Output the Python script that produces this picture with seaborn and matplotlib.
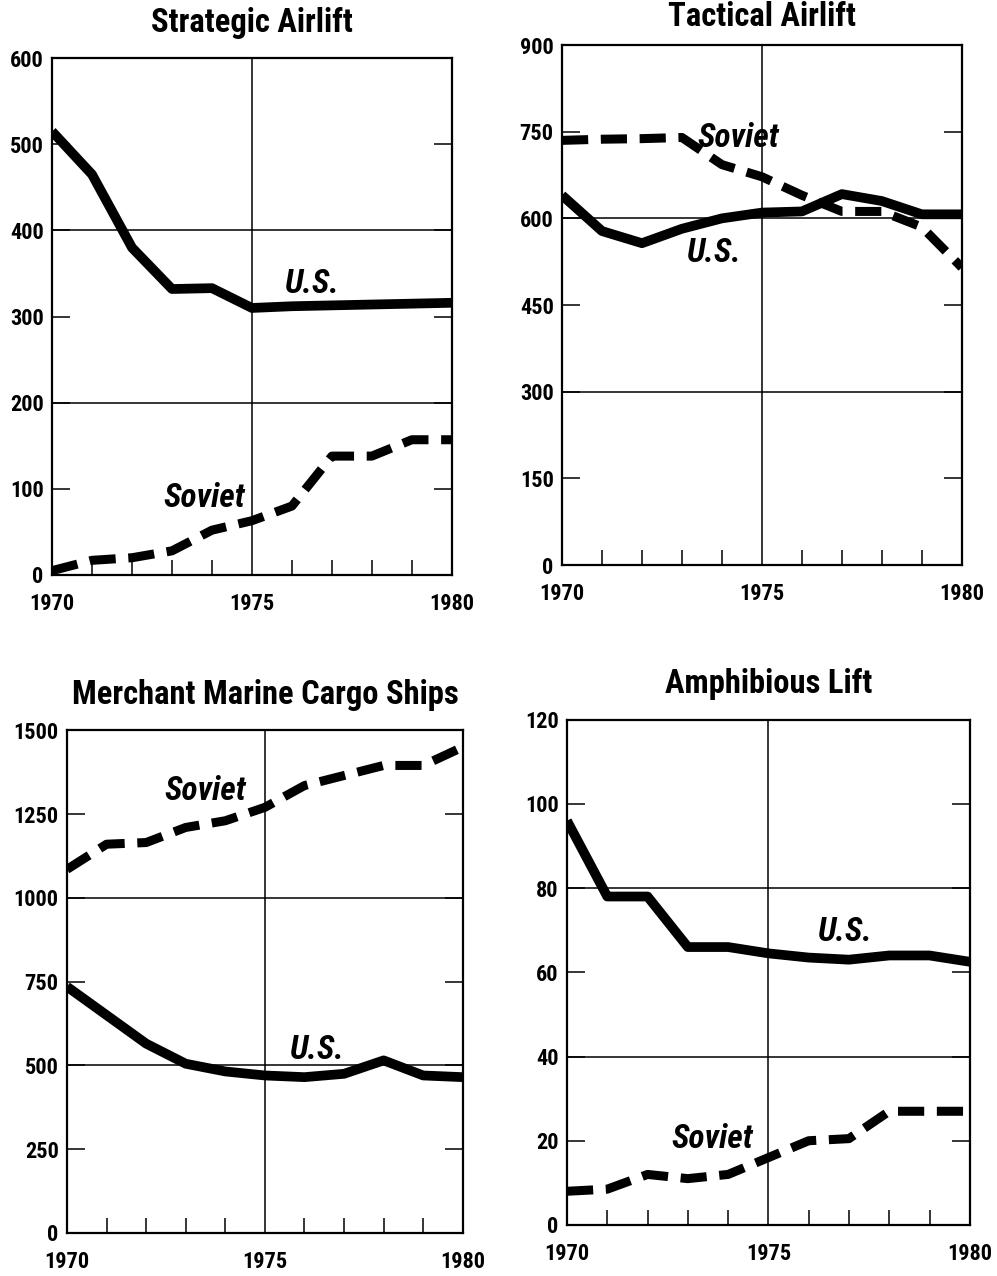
import numpy as np
import pandas as pd
import seaborn as sns
import matplotlib.pyplot as plt
from matplotlib import font_manager

#######################################################################
#  DATA
#######################################################################
years = list(range(1970, 1981))

strategic_us = [515, 465, 380, 332, 333, 310, 312, 313, 314, 315, 316]
strategic_soviet = [5, 17, 20, 28, 52, 63, 80, 138, 138, 157, 157]

tactical_us = [640, 578, 557, 582, 600, 610, 612, 642, 630, 607, 607]
tactical_soviet = [735, 737, 738, 740, 693, 672, 640, 612, 612, 585, 515]

merchant_us = [735, 650, 565, 505, 482, 470, 465, 475, 515, 470, 465]
merchant_soviet = [1085, 1160, 1165, 1210, 1230, 1270, 1335, 1365, 1395, 1395, 1450]

amphib_us = [96, 78, 78, 66, 66, 64.5, 63.5, 63, 64, 64, 62.5]
amphib_soviet = [8, 8.5, 12, 11, 12, 16, 20, 20.5, 27, 27, 27]

titles = ['Strategic Airlift', 'Tactical Airlift',
          'Merchant Marine Cargo Ships', 'Amphibious Lift']
y_max = [600, 900, 1500, 120]
y_step = [100, 150, 250, 20]

# label positions (year, value) for "U.S." and "Soviet"
us_label_pos = [(1976.5, 338), (1973.8, 540), (1976.3, 547), (1976.9, 69.6)]
soviet_label_pos = [(1973.8, 89), (1974.4, 739), (1973.5, 1320), (1973.6, 20.4)]

#######################################################################
#  PLOT
#######################################################################
sns.set_style("white")
installed = {f.name for f in font_manager.fontManager.ttflist}
families = [n for n in ['Liberation Sans Narrow', 'Roboto Condensed',
                        'DejaVu Sans Condensed', 'Liberation Sans'] if n in installed]
plt.rcParams['font.family'] = families + ['DejaVu Sans']
plt.rcParams['font.weight'] = 'bold'
for k in ['text.color', 'axes.labelcolor', 'xtick.color', 'ytick.color',
          'axes.edgecolor']:
    plt.rcParams[k] = 'black'

fig = plt.figure(figsize=(9.97, 12.76), dpi=100)
axes_rects = [
    [0.0522, 0.5494, 0.401, 0.405],
    [0.5637, 0.5572, 0.401, 0.4075],
    [0.0672, 0.0337, 0.397, 0.394],
    [0.5687, 0.0400, 0.404, 0.396],
]
us_series = [strategic_us, tactical_us, merchant_us, amphib_us]
soviet_series = [strategic_soviet, tactical_soviet, merchant_soviet, amphib_soviet]
title_pads = [19, 14, 19, 19]

for i in range(4):
    ax = fig.add_axes(axes_rects[i])
    df = pd.DataFrame({'year': years, 'US': us_series[i], 'Soviet': soviet_series[i]})

    sns.lineplot(data=df, x='year', y='US', color='black', linewidth=7,
                 solid_capstyle='butt', ax=ax, zorder=5)
    sns.lineplot(data=df, x='year', y='Soviet', color='black', linewidth=6.5,
                 linestyle=(0, (2.9, 1.4)), ax=ax, zorder=5)

    # grid: one vertical line at 1975, horizontals at every other step
    ax.axvline(1975, color='black', linewidth=1.1, zorder=1)
    for v in [2 * y_step[i], 4 * y_step[i]]:
        ax.axhline(v, color='black', linewidth=1.1, zorder=1)

    ax.set_xlim(1970, 1980)
    ax.set_ylim(0, y_max[i])
    ax.set_xticks([1970, 1975, 1980])
    ax.set_xticks(years, minor=True)
    ax.set_yticks(np.arange(0, y_max[i] + 1, y_step[i]))
    ax.tick_params(axis='x', which='major', length=0, pad=13, labelsize=16)
    ax.tick_params(axis='x', which='minor', direction='in', length=11,
                   width=1.1, bottom=True)
    ax.tick_params(axis='y', direction='in', length=13, width=1.1,
                   left=True, right=True, pad=6, labelsize=16)
    for lab in ax.get_xticklabels() + ax.get_yticklabels():
        lab.set_fontweight('bold')

    for s in ax.spines.values():
        s.set_linewidth(1.6)
        s.set_color('black')
    ax.set_xlabel('')
    ax.set_ylabel('')

    ax.set_title(titles[i], fontsize=23.5, fontweight='bold', pad=title_pads[i])

    ax.text(us_label_pos[i][0], us_label_pos[i][1], 'U.S.', fontsize=24,
            fontweight='bold', fontstyle='italic', ha='center', va='center',
            zorder=6)
    ax.text(soviet_label_pos[i][0], soviet_label_pos[i][1], 'Soviet',
            fontsize=24, fontweight='bold', fontstyle='italic', ha='center',
            va='center', zorder=6)

fig.savefig('out.png', dpi=100, facecolor='white')
